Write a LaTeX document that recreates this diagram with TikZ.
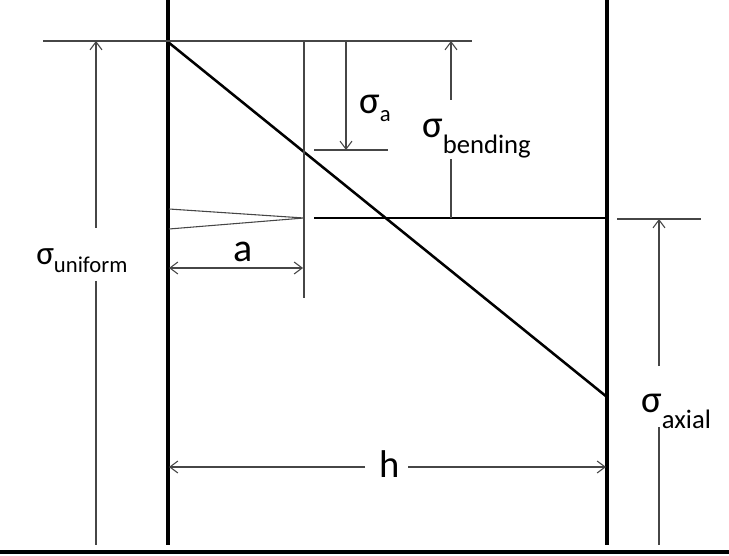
\documentclass[tikz,border=0pt]{standalone}
\usepackage{fontspec}
\setmainfont{Carlito}
\usetikzlibrary{arrows.meta}

% sigma with a lowered word as subscript
\newcommand{\sig}[4]{{\fontsize{#1}{#1}\selectfont σ}\raisebox{-#3}{\fontsize{#2}{#2}\selectfont #4}}

\begin{document}
\begin{tikzpicture}[x=0.75pt, y=-0.75pt]
  \definecolor{dimgrey}{RGB}{70,70,70}
  \tikzset{
    wall/.style={line width=2.4pt, black},
    stressline/.style={line width=1.9pt, black},
    thinline/.style={line width=0.8pt, dimgrey},
    dim/.style={thinline, -{Straight Barb[length=6pt,width=9pt]}},
    dimboth/.style={thinline, {Straight Barb[length=6pt,width=9pt]}-{Straight Barb[length=6pt,width=9pt]}},
    lbl/.style={inner sep=0pt, text=black}
  }
  \useasboundingbox (0,0) rectangle (729,556);

  % walls and base
  \coordinate (wallLtop) at (168,0);
  \coordinate (wallLbot) at (168,545);
  \coordinate (wallRtop) at (607,0);
  \coordinate (wallRbot) at (607,545);
  \coordinate (baseL) at (0,552);
  \coordinate (baseR) at (729,552);
  \draw[wall] (wallLtop) -- (wallLbot);
  \draw[wall] (wallRtop) -- (wallRbot);
  \draw[line width=2.6pt] (baseL) -- (baseR);

  % stress distribution
  \coordinate (diagTop) at (168,42);
  \coordinate (diagBot) at (607,397);
  \coordinate (axL) at (314,218);
  \coordinate (axR) at (607,218);
  \draw[stressline] (diagTop) -- (diagBot);
  \draw[stressline] (axL) -- (axR);

  % extension lines
  \coordinate (topL) at (43,41);
  \coordinate (topR) at (472,41);
  \coordinate (aTop) at (304,41);
  \coordinate (aBot) at (304,298);
  \coordinate (saL) at (314,150);
  \coordinate (saR) at (388,150);
  \coordinate (axialL) at (617,219);
  \coordinate (axialR) at (701,219);
  \draw[thinline] (topL) -- (topR);
  \draw[thinline] (aTop) -- (aBot);
  \draw[thinline] (saL) -- (saR);
  \draw[thinline] (axialL) -- (axialR);

  % wedge
  \coordinate (wedgeA) at (169,209);
  \coordinate (wedgeTip) at (304,218);
  \coordinate (wedgeB) at (169,229);
  \draw[thinline] (wedgeA) -- (wedgeTip) -- (wedgeB);

  % labels
  \node[lbl, anchor=base west] (sigA) at (359,114) {\sig{29pt}{17pt}{6pt}{a}};
  \node[lbl, anchor=base west] (sigBend) at (422,138) {\sig{29pt}{20pt}{12pt}{bending}};
  \node[lbl, anchor=base west] (sigUni) at (36,265) {\sig{25pt}{17pt}{6pt}{uniform}};
  \node[lbl, anchor=base west] (sigAxial) at (641,412) {\sig{29pt}{20pt}{12pt}{axial}};
  \node[lbl, anchor=base, font=\fontsize{30pt}{30pt}\selectfont] (aLbl) at (243,262) {a};
  \node[lbl, anchor=base, font=\fontsize{29pt}{29pt}\selectfont] (hLbl) at (390,477) {h};

  % sigma_a
  \coordinate (saStart) at (346,41);
  \coordinate (saEnd) at (346,150);
  \draw[dim] (saStart) -- (saEnd);

  % sigma_bending
  \coordinate (sbTop) at (451,41);
  \coordinate (sbUp) at (451,100);
  \coordinate (sbLow) at (451,159);
  \coordinate (sbBot) at (451,218);
  \draw[dim] (sbUp) -- (sbTop);
  \draw[thinline] (sbBot) -- (sbLow);

  % sigma_uniform
  \coordinate (suTop) at (96,41);
  \coordinate (suUp) at (96,228);
  \coordinate (suLow) at (96,281);
  \coordinate (suBot) at (96,545);
  \draw[dim] (suUp) -- (suTop);
  \draw[thinline] (suLow) -- (suBot);

  % sigma_axial
  \coordinate (sxTop) at (659,219);
  \coordinate (sxUp) at (659,366);
  \coordinate (sxLow) at (659,427);
  \coordinate (sxBot) at (659,545);
  \draw[dim] (sxUp) -- (sxTop);
  \draw[thinline] (sxLow) -- (sxBot);

  % a
  \coordinate (aDimL) at (169,268);
  \coordinate (aDimR) at (303,268);
  \draw[dimboth] (aDimL) -- (aDimR);

  % h
  \coordinate (hDimL) at (169,467);
  \coordinate (hGapL) at (365,467);
  \coordinate (hGapR) at (408,467);
  \coordinate (hDimR) at (606,467);
  \draw[dim] (hGapL) -- (hDimL);
  \draw[dim] (hGapR) -- (hDimR);
\end{tikzpicture}
\end{document}
